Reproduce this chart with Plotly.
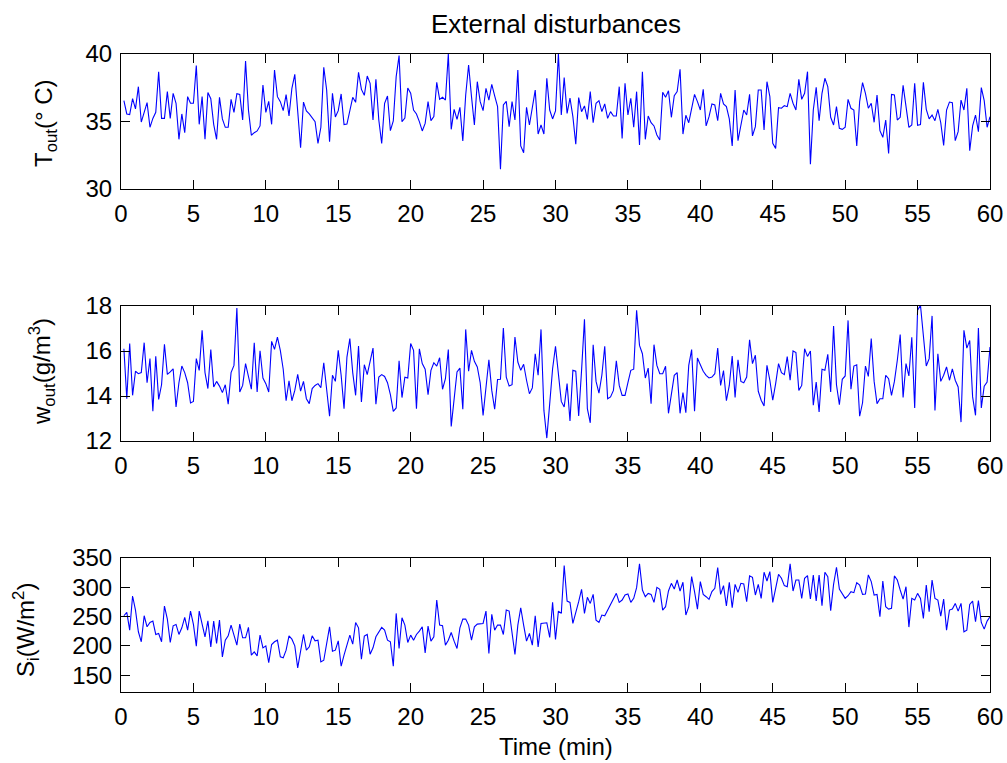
import plotly.graph_objects as go
from plotly.subplots import make_subplots

TIME_STEP = 0.2

T_out = [
    36.54, 35.56, 35.51, 36.69, 35.93, 37.58, 34.96, 35.65, 36.40, 34.57,
    35.23, 35.68, 38.69, 35.23, 35.23, 37.21, 35.23, 37.09, 36.35, 33.68,
    35.56, 34.17, 36.84, 36.35, 36.35, 39.14, 34.79, 36.84, 33.68, 37.14,
    36.69, 34.79, 33.68, 36.79, 35.19, 34.57, 34.57, 36.64, 35.68, 37.06,
    37.01, 35.11, 39.48, 35.85, 33.98, 34.17, 34.30, 34.67, 37.70, 35.68,
    36.49, 34.79, 38.81, 36.84, 36.47, 35.80, 36.99, 35.41, 37.46, 38.49,
    35.85, 33.06, 36.44, 35.78, 35.56, 35.31, 34.99, 33.38, 34.57, 39.01,
    37.33, 33.51, 37.09, 35.33, 35.80, 37.04, 34.77, 34.81, 35.75, 36.79,
    36.42, 38.64, 37.38, 36.94, 38.37, 37.83, 35.11, 38.12, 35.11, 33.38,
    36.35, 36.89, 34.32, 35.04, 38.32, 39.88, 34.99, 35.26, 37.48, 37.09,
    35.85, 35.56, 34.99, 34.30, 34.86, 36.47, 35.06, 35.36, 37.90, 36.64,
    36.79, 36.59, 40.00, 34.42, 35.90, 35.16, 36.05, 33.56, 36.96, 39.19,
    36.84, 34.74, 37.95, 36.47, 35.80, 37.46, 36.59, 37.75, 36.89, 36.10,
    31.46, 36.22, 36.49, 34.62, 36.47, 35.11, 38.81, 33.19, 32.69, 36.05,
    34.74, 36.10, 37.33, 34.07, 34.74, 34.07, 38.20, 35.85, 35.19, 35.78,
    40.00, 35.48, 38.25, 35.60, 36.74, 35.36, 33.31, 36.77, 35.73, 36.15,
    35.16, 37.21, 34.91, 36.35, 36.54, 35.73, 36.30, 35.23, 35.73, 35.41,
    35.41, 37.58, 33.75, 37.83, 35.48, 36.72, 34.57, 37.21, 33.26, 38.69,
    33.68, 35.41, 34.91, 34.67, 34.00, 33.63, 37.16, 36.79, 37.28, 35.31,
    36.91, 37.21, 38.86, 34.07, 35.46, 34.91, 35.98, 37.01, 36.47, 35.85,
    37.38, 34.67, 35.36, 36.30, 36.22, 35.06, 37.09, 36.30, 36.10, 35.19,
    33.19, 37.33, 33.58, 34.74, 35.85, 35.48, 37.01, 33.93, 34.62, 37.33,
    37.33, 34.37, 37.95, 36.84, 33.38, 33.01, 36.02, 35.98, 36.17, 36.10,
    37.09, 36.35, 35.85, 38.12, 36.64, 37.09, 38.69, 31.83, 35.85, 37.53,
    35.06, 37.09, 38.20, 37.58, 35.31, 34.74, 36.10, 34.49, 34.42, 34.57,
    36.64, 35.98, 35.85, 33.19, 36.47, 37.88, 37.09, 35.98, 36.35, 34.94,
    36.96, 34.32, 33.83, 35.11, 32.64, 37.01, 36.96, 35.11, 35.31, 37.68,
    36.10, 34.57, 34.74, 37.83, 34.72, 34.77, 37.90, 35.90, 35.19, 35.48,
    35.06, 35.90, 34.91, 33.23, 35.85, 36.44, 36.40, 33.58, 34.25, 36.59,
    35.85, 37.46, 32.84, 34.67, 35.48, 34.25, 37.51, 36.54, 34.57, 35.36,
]

w_out = [
    16.10, 13.88, 16.33, 14.03, 15.10, 14.99, 15.04, 16.37, 14.59, 15.66,
    13.32, 15.76, 13.85, 14.50, 16.30, 14.96, 15.07, 15.21, 13.51, 14.59,
    15.33, 15.04, 14.59, 13.69, 13.76, 15.66, 15.14, 16.92, 15.04, 14.33,
    16.07, 14.40, 14.65, 14.44, 14.15, 14.50, 13.64, 15.04, 15.36, 17.91,
    14.18, 14.47, 15.44, 14.84, 14.30, 16.37, 14.18, 16.01, 14.80, 14.55,
    14.18, 16.43, 16.07, 16.62, 16.03, 15.19, 13.79, 14.67, 13.79, 14.25,
    14.96, 14.22, 14.65, 13.88, 13.66, 14.33, 14.47, 14.55, 14.37, 15.48,
    14.33, 13.10, 14.92, 14.65, 16.03, 14.92, 13.44, 15.73, 16.55, 15.04,
    14.03, 16.22, 13.73, 15.39, 14.95, 15.59, 16.13, 13.64, 14.84, 14.95,
    14.87, 14.59, 14.06, 13.32, 13.47, 15.57, 13.93, 14.84, 14.80, 16.33,
    16.03, 13.44, 16.10, 15.44, 15.19, 14.06, 15.14, 15.48, 15.33, 15.70,
    14.30, 14.77, 16.07, 12.65, 13.73, 15.07, 15.24, 13.41, 16.96, 15.10,
    16.03, 15.54, 15.29, 14.59, 13.14, 14.55, 15.61, 14.25, 13.41, 14.73,
    14.74, 17.02, 14.84, 14.44, 14.50, 16.62, 15.51, 15.14, 15.41, 14.70,
    14.10, 14.36, 15.88, 14.92, 16.96, 13.36, 12.13, 13.66, 15.21, 16.21,
    15.07, 13.76, 13.51, 14.55, 12.89, 15.14, 15.10, 13.11, 15.14, 17.41,
    13.44, 12.81, 16.28, 14.65, 14.13, 14.92, 16.21, 13.88, 13.96, 14.25,
    15.56, 14.47, 14.03, 14.03, 14.59, 15.14, 15.19, 17.81, 16.25, 15.88,
    14.80, 15.24, 13.66, 16.28, 15.36, 14.99, 14.99, 15.32, 13.23, 14.18,
    14.92, 15.04, 13.23, 14.15, 13.26, 15.36, 16.06, 13.32, 15.69, 15.39,
    15.10, 14.92, 14.80, 14.84, 14.99, 16.13, 14.47, 15.13, 13.79, 14.47,
    15.78, 13.93, 15.61, 14.65, 14.59, 14.84, 16.50, 15.44, 15.81, 14.21,
    13.81, 13.56, 15.36, 14.70, 13.81, 14.55, 15.44, 15.04, 14.95, 15.75,
    14.70, 16.00, 15.93, 14.25, 14.47, 16.10, 15.76, 16.00, 13.59, 14.62,
    13.29, 15.19, 15.14, 15.85, 14.18, 17.11, 14.50, 13.61, 14.74, 14.89,
    17.36, 14.30, 15.33, 15.39, 13.10, 13.70, 15.33, 14.87, 16.55, 14.65,
    13.66, 13.88, 13.88, 14.92, 14.77, 14.03, 14.65, 15.59, 16.73, 13.94,
    15.44, 14.89, 16.61, 13.47, 17.81, 18.03, 16.62, 15.33, 15.66, 17.56,
    13.36, 15.88, 14.65, 14.92, 15.29, 14.70, 15.21, 14.70, 14.40, 12.84,
    16.92, 16.13, 16.47, 13.96, 13.14, 17.02, 13.47, 14.44, 14.62, 16.18,
]

S_i = [
    251.5, 257.2, 227.0, 285.2, 261.2, 224.2, 207.1, 251.5, 232.7, 240.1,
    242.4, 219.6, 221.3, 207.1, 268.1, 245.8, 205.9, 234.4, 236.7, 219.6,
    231.0, 248.7, 227.0, 259.5, 236.7, 199.7, 259.5, 236.7, 215.6, 243.0,
    198.5, 242.4, 204.2, 244.1, 181.4, 209.9, 217.3, 235.6, 217.3, 201.4,
    237.3, 213.9, 213.9, 231.6, 184.3, 190.0, 183.1, 218.5, 196.8, 200.2,
    171.7, 202.5, 207.1, 209.9, 181.4, 179.7, 192.8, 217.3, 211.6, 200.2,
    162.6, 188.8, 219.6, 192.8, 198.5, 217.3, 208.8, 209.9, 172.9, 175.7,
    201.4, 232.7, 191.1, 192.8, 208.8, 165.5, 184.3, 202.5, 218.5, 203.1,
    240.1, 231.0, 177.4, 216.8, 219.6, 186.0, 196.8, 215.6, 223.0, 231.6,
    227.0, 209.9, 207.1, 165.5, 255.5, 195.7, 248.1, 235.6, 205.9, 218.5,
    209.9, 219.6, 225.3, 232.7, 188.3, 233.9, 208.2, 215.6, 278.3, 235.6,
    234.4, 201.4, 209.9, 223.0, 208.2, 195.7, 231.0, 245.8, 245.8, 235.6,
    209.9, 232.7, 237.3, 237.3, 238.4, 259.5, 187.1, 253.8, 227.0, 235.6,
    235.6, 219.6, 261.2, 259.5, 219.6, 185.4, 235.6, 265.2, 235.6, 208.2,
    221.3, 201.4, 251.5, 198.5, 238.4, 238.4, 239.6, 214.5, 274.3, 211.1,
    259.5, 255.5, 337.1, 276.6, 274.3, 238.4, 255.5, 275.5, 296.6, 255.5,
    282.9, 272.6, 288.0, 244.1, 240.1, 252.7, 251.5, 261.2, 268.6, 280.0,
    289.7, 274.3, 278.3, 286.9, 288.6, 274.3, 281.2, 299.4, 339.9, 295.4,
    284.0, 289.7, 288.0, 274.3, 300.0, 296.6, 261.2, 266.9, 293.7, 306.8,
    297.1, 312.5, 293.7, 308.6, 252.7, 266.9, 318.2, 292.6, 262.9, 309.7,
    288.0, 284.0, 279.5, 292.6, 298.3, 333.6, 288.0, 302.9, 268.1, 308.6,
    265.2, 305.1, 291.4, 306.8, 305.7, 275.5, 319.4, 317.1, 286.9, 305.1,
    281.2, 325.7, 310.8, 326.8, 274.3, 298.3, 322.2, 315.4, 302.9, 301.1,
    339.9, 293.7, 312.5, 312.5, 281.2, 315.4, 320.0, 280.0, 321.1, 276.6,
    321.1, 268.6, 325.7, 318.2, 260.1, 305.1, 334.2, 297.1, 288.0, 281.2,
    285.7, 292.6, 290.9, 308.0, 304.0, 288.0, 288.6, 321.1, 309.7, 286.9,
    288.0, 249.8, 310.8, 266.9, 262.9, 264.1, 319.4, 312.5, 295.4, 280.0,
    301.1, 232.2, 281.2, 278.3, 289.7, 281.2, 247.0, 304.0, 258.4, 312.5,
    281.2, 278.3, 251.0, 280.0, 227.0, 261.2, 262.9, 272.6, 259.5, 272.6,
    224.2, 227.0, 270.9, 276.6, 241.3, 277.2, 240.1, 228.7, 242.4, 249.8,
]

time_min = [round(TIME_STEP * (k + 1), 1) for k in range(len(T_out))]

x_ticks = [0, 5, 10, 15, 20, 25, 30, 35, 40, 45, 50, 55, 60]
T_ticks = [30, 35, 40]
w_ticks = [12, 14, 16, 18]
S_ticks = [150, 200, 250, 300, 350]

title_text = "External disturbances"
x_label = "Time (min)"
y_labels = ["T<sub>out</sub>(° C)", "w<sub>out</sub>(g/m<sup>3</sup>)", "S<sub>i</sub>(W/m<sup>2</sup>)"]

W, H = 1007, 763
L, R, T, B = 121, 990, 54, 692
ph = B - T


def py(pix):
    return (B - pix) / ph


def px(pix):
    return (pix - L) / (R - L)


fig = make_subplots(rows=3, cols=1)
FONT = "Liberation Sans, Arial, Helvetica, sans-serif"
TICK_SIZE = 24
series = [T_out, w_out, S_i]
for i, s in enumerate(series):
    fig.add_trace(go.Scatter(x=time_min, y=s, mode="lines",
                             line=dict(color="#0000ff", width=1.1),
                             showlegend=False, hoverinfo="skip"), row=i + 1, col=1)

domains = [(py(189), py(54)), (py(441), py(306)), (py(692), py(558))]
yranges = [[30, 40], [12, 18], [121.5, 350]]
yticks = [T_ticks, w_ticks, S_ticks]
common = dict(ticks="inside", ticklen=9, tickcolor="black", tickwidth=1,
              showline=True, linecolor="black", linewidth=1, mirror="ticks",
              showgrid=False, zeroline=False, ticklabelstandoff=3,
              automargin=False,
              tickfont=dict(family=FONT, size=TICK_SIZE, color="black"))
for i in range(3):
    ax = dict(domain=list(domains[i]), range=yranges[i], tickvals=yticks[i], **common)
    fig.update_layout(**{("yaxis" if i == 0 else f"yaxis{i+1}"): ax})
    xa = dict(domain=[0, 1], range=[0, 60], tickvals=x_ticks, **common)
    fig.update_layout(**{("xaxis" if i == 0 else f"xaxis{i+1}"): xa})

annots = [
    dict(text=title_text, x=0.5, y=py(24), xref="paper", yref="paper",
         xanchor="center", yanchor="middle", showarrow=False,
         font=dict(family=FONT, size=26, color="black")),
    dict(text=x_label, x=0.5, y=py(746), xref="paper", yref="paper",
         xanchor="center", yanchor="middle", showarrow=False,
         font=dict(family=FONT, size=24, color="black")),
]
label_pos = [(46, 123), (42, 372), (26, 630)]
for (lx, ly), txt in zip(label_pos, y_labels):
    annots.append(dict(text=txt, x=px(lx), y=py(ly), xref="paper", yref="paper",
                       xanchor="center", yanchor="middle", showarrow=False,
                       textangle=-90,
                       font=dict(family=FONT, size=24, color="black")))

fig.update_layout(width=W, height=H, margin=dict(l=L, r=W - R, t=T, b=H - B, pad=0,
                                                 autoexpand=False),
                  paper_bgcolor="white", plot_bgcolor="white",
                  annotations=annots, showlegend=False)

# remove the default page margin so the 1007x763 figure fills the window exactly
fig.write_html("out.html",
               config={"displayModeBar": False},
               post_script="document.body.style.margin='0px';"
                           "document.body.style.overflow='hidden';")
